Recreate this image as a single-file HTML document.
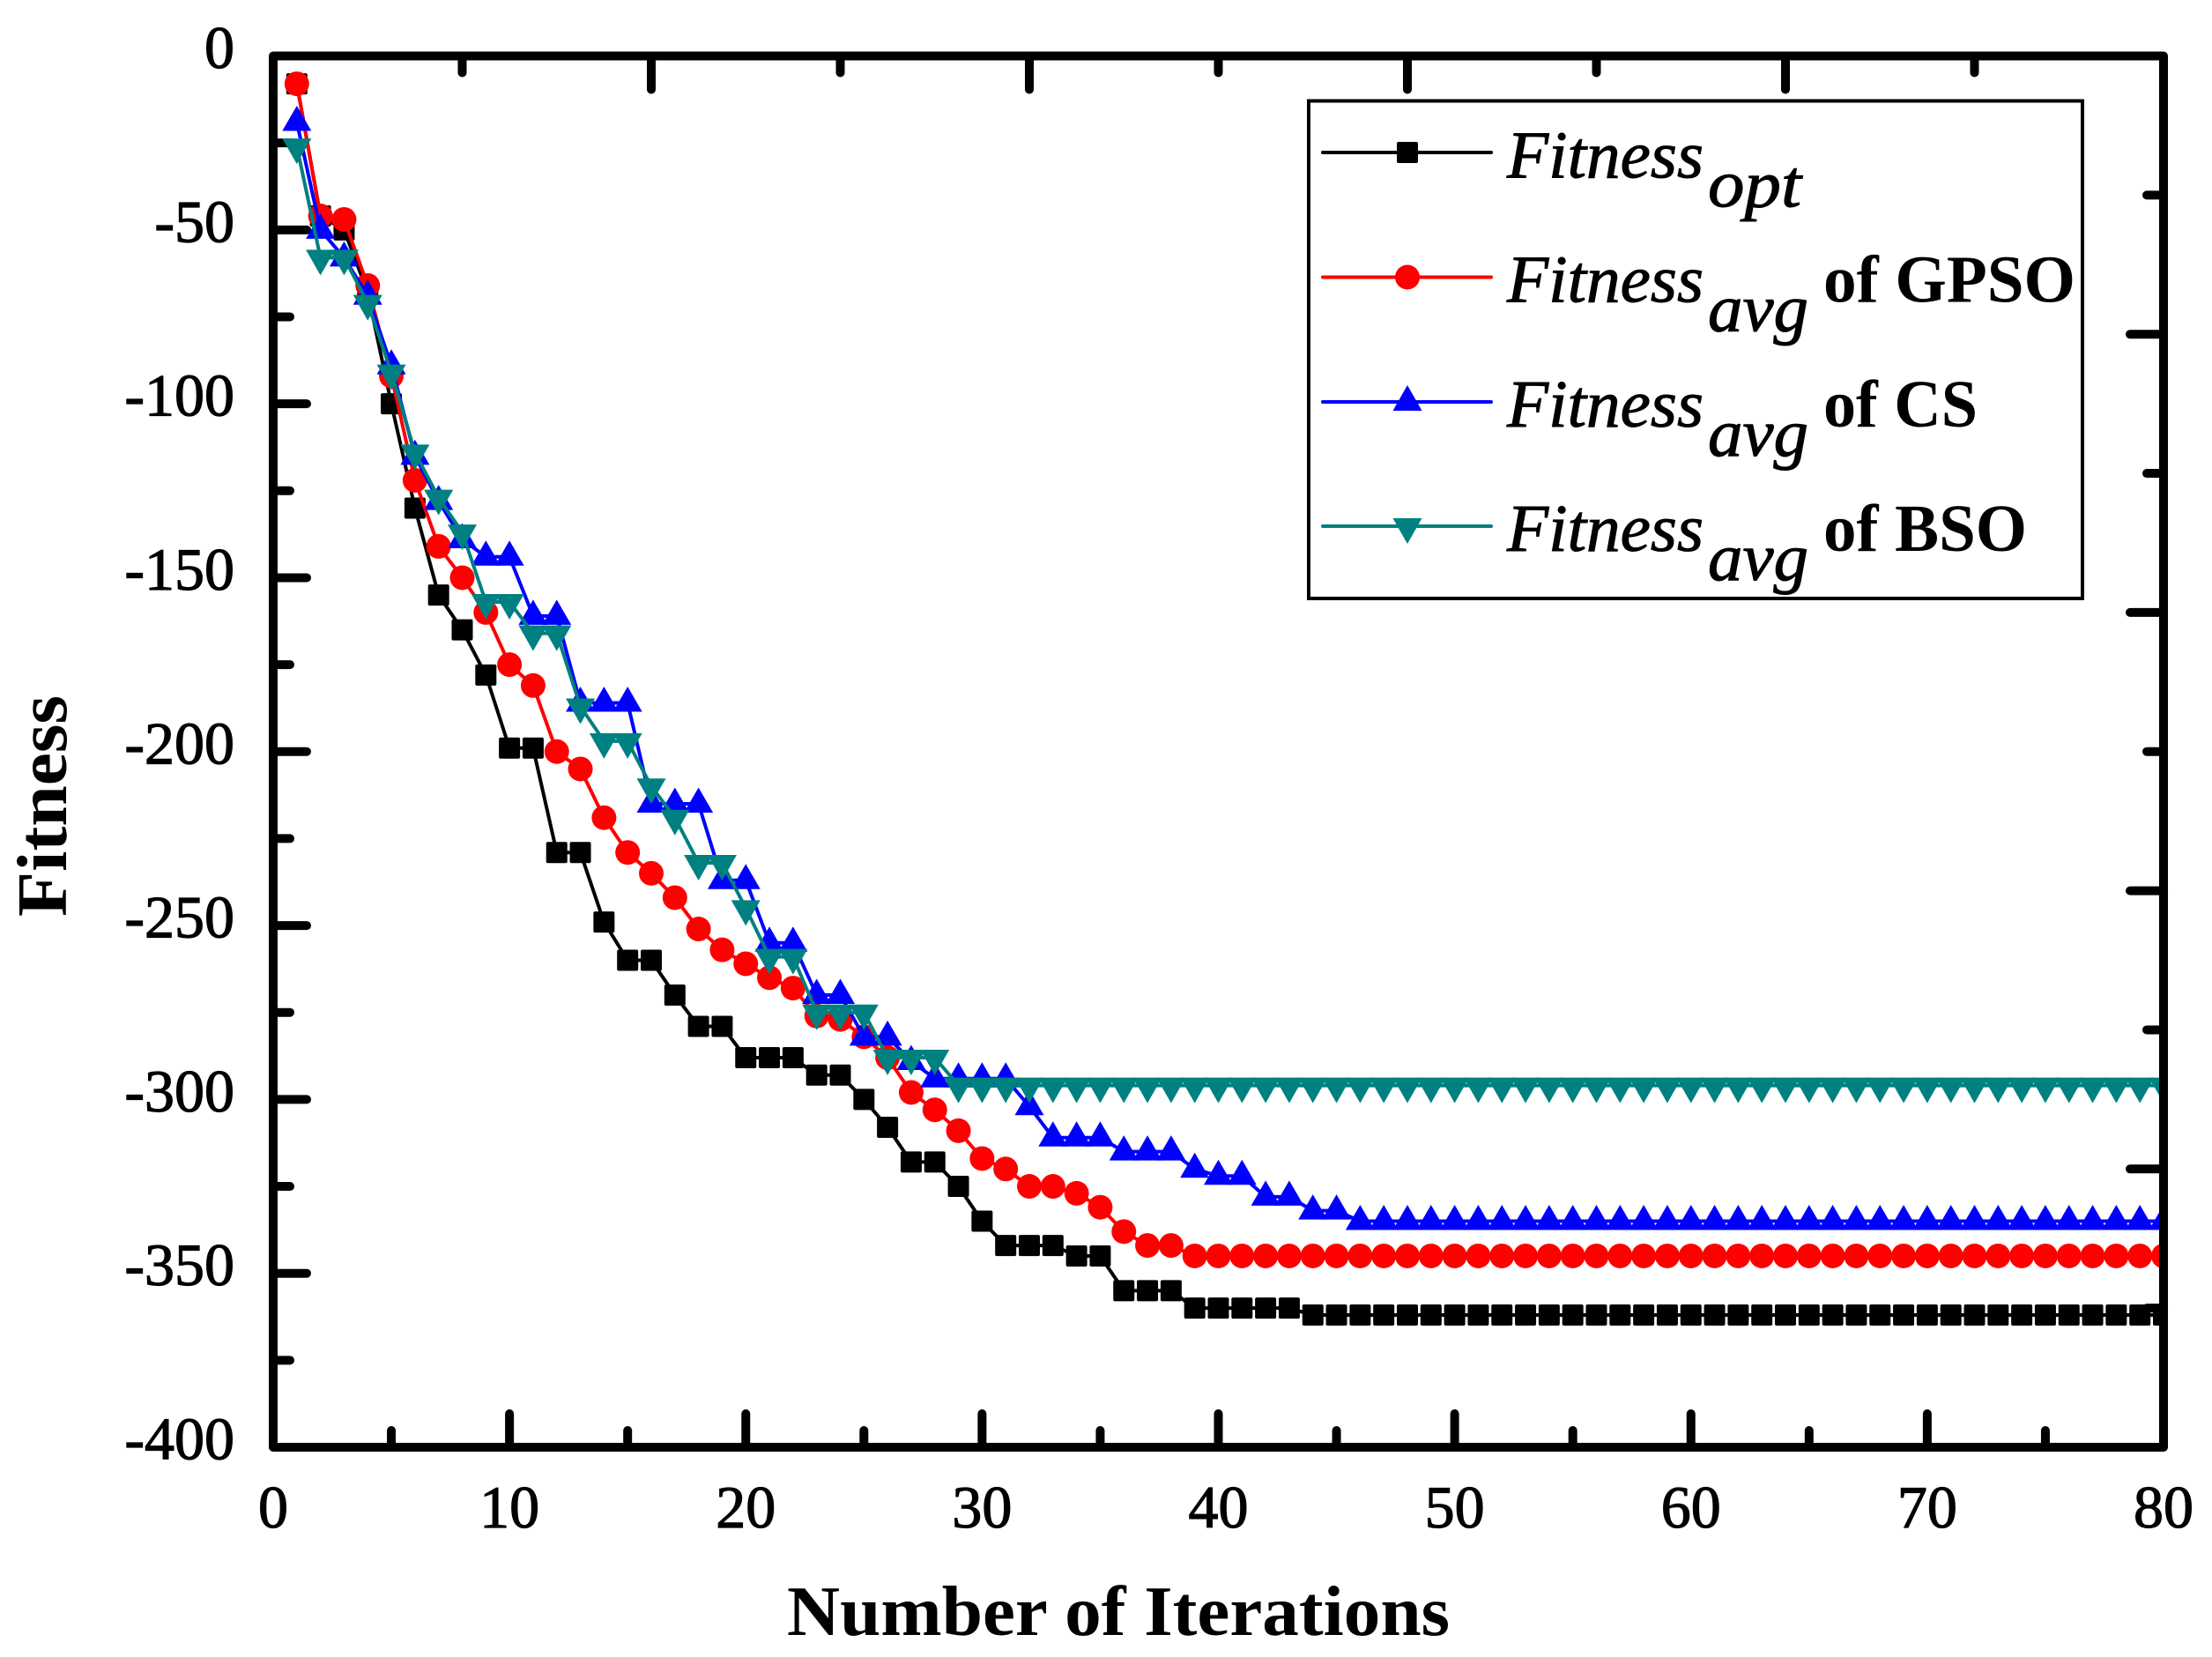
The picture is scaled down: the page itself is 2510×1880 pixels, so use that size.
<!DOCTYPE html>
<html lang="en">
<head>
<meta charset="utf-8">
<title>Fitness vs Number of Iterations</title>
<style>
html,body{margin:0;padding:0;background:#fff;width:2510px;height:1880px;overflow:hidden}
svg{display:block}
.tick-label{font-family:"Liberation Serif",serif;font-size:68px;fill:#000;stroke:#000;stroke-width:1.2px}
.axis-title{font-family:"Liberation Serif",serif;font-size:80px;font-weight:bold;fill:#000}
.legend-it{font-family:"Liberation Serif",serif;font-size:76px;font-style:italic;fill:#000;stroke:#000;stroke-width:1px}
.legend-of{font-family:"Liberation Serif",serif;font-size:76px;font-weight:bold;fill:#000}
</style>
</head>
<body>
<svg id="chart" xmlns="http://www.w3.org/2000/svg" width="2510" height="1880" viewBox="0 0 2510 1880">
  <rect x="0" y="0" width="2510" height="1880" fill="#fff"/>
  <defs><clipPath id="plot-clip"><rect x="300" y="40" width="2150" height="1610"/></clipPath></defs>
  <g id="ticks"></g>
  <g id="tick-labels"></g>
  <g id="series" clip-path="url(#plot-clip)"></g>
  <rect x="310" y="63.5" width="2145" height="1578.5" fill="none" stroke="#000" stroke-width="10" stroke-linejoin="round"/>

  <text class="axis-title" x="893" y="1855" textLength="752" lengthAdjust="spacingAndGlyphs">Number of Iterations</text>
  <text class="axis-title" transform="translate(75,1040) rotate(-90)" textLength="251" lengthAdjust="spacingAndGlyphs">Fitness</text>

  <g>
    <rect x="1485" y="114.5" width="878" height="564.5" fill="#fff" stroke="#000" stroke-width="4"/>

    <g>
      <line x1="1501" y1="173" x2="1692" y2="173" stroke="#000" stroke-width="4" stroke-linecap="round"/>
      <rect x="1585" y="161" width="24" height="24" rx="2" fill="#000"/>
      <text class="legend-it" x="1710" y="201.5" textLength="223" lengthAdjust="spacingAndGlyphs">Fitness</text>
      <text class="legend-it" x="1938" y="234.5" textLength="106" lengthAdjust="spacingAndGlyphs">opt</text>
    </g>

    <g>
      <line x1="1501" y1="314.5" x2="1692" y2="314.5" stroke="#f00" stroke-width="4" stroke-linecap="round"/>
      <circle cx="1597" cy="314.5" r="14" fill="#f00"/>
      <text class="legend-it" x="1710" y="342.5" textLength="223" lengthAdjust="spacingAndGlyphs">Fitness</text>
      <text class="legend-it" x="1938" y="375.5" textLength="114" lengthAdjust="spacingAndGlyphs">avg</text>
      <text class="legend-of" x="2069" y="342.5" textLength="286" lengthAdjust="spacingAndGlyphs">of GPSO</text>
    </g>

    <g>
      <line x1="1501" y1="456" x2="1692" y2="456" stroke="#00f" stroke-width="4" stroke-linecap="round"/>
      <polygon points="1597,437 1613.5,466 1580.5,466" fill="#00f"/>
      <text class="legend-it" x="1710" y="484" textLength="223" lengthAdjust="spacingAndGlyphs">Fitness</text>
      <text class="legend-it" x="1938" y="517" textLength="114" lengthAdjust="spacingAndGlyphs">avg</text>
      <text class="legend-of" x="2069" y="484" textLength="175" lengthAdjust="spacingAndGlyphs">of CS</text>
    </g>

    <g>
      <line x1="1501" y1="597" x2="1692" y2="597" stroke="#008080" stroke-width="4" stroke-linecap="round"/>
      <polygon points="1597,617 1613.5,588 1580.5,588" fill="#008080"/>
      <text class="legend-it" x="1710" y="625" textLength="223" lengthAdjust="spacingAndGlyphs">Fitness</text>
      <text class="legend-it" x="1938" y="658" textLength="114" lengthAdjust="spacingAndGlyphs">avg</text>
      <text class="legend-of" x="2069" y="625" textLength="231" lengthAdjust="spacingAndGlyphs">of BSO</text>
    </g>
  </g>
</svg>

<script>
// ---- chart data ----
const iterations = [1,2,3,4,5,6,7,8,9,10,11,12,13,14,15,16,17,18,19,20,21,22,23,24,25,26,27,28,29,30,31,32,33,34,35,36,37,38,39,40,41,42,43,44,45,46,47,48,49,50,51,52,53,54,55,56,57,58,59,60,61,62,63,64,65,66,67,68,69,70,71,72,73,74,75,76,77,78,79,80];
const fitnessOpt = [-8,-46,-50,-68,-100,-130,-155,-165,-178,-199,-199,-229,-229,-249,-260,-260,-270,-279,-279,-288,-288,-288,-293,-293,-300,-308,-318,-318,-325,-335,-342,-342,-342,-345,-345,-355,-355,-355,-360,-360,-360,-360,-360,-362,-362,-362,-362,-362,-362,-362,-362,-362,-362,-362,-362,-362,-362,-362,-362,-362,-362,-362,-362,-362,-362,-362,-362,-362,-362,-362,-362,-362,-362,-362,-362,-362,-362,-362,-362,-362];
const fitnessGpso = [-8,-46,-47,-66,-92,-122,-141,-150,-160,-175,-181,-200,-205,-219,-229,-235,-242,-251,-257,-261,-265,-268,-276,-277,-282,-288,-298,-303,-309,-317,-320,-325,-325,-327,-331,-338,-342,-342,-345,-345,-345,-345,-345,-345,-345,-345,-345,-345,-345,-345,-345,-345,-345,-345,-345,-345,-345,-345,-345,-345,-345,-345,-345,-345,-345,-345,-345,-345,-345,-345,-345,-345,-345,-345,-345,-345,-345,-345,-345,-345];
const fitnessCs = [-19,-50,-58,-69,-89,-115,-128,-139,-144,-144,-161,-161,-186,-186,-186,-215,-215,-215,-237,-237,-255,-255,-270,-270,-282,-282,-289,-294,-294,-294,-294,-302,-311,-311,-311,-315,-315,-315,-320,-322,-322,-328,-328,-332,-332,-335,-335,-335,-335,-335,-335,-335,-335,-335,-335,-335,-335,-335,-335,-335,-335,-335,-335,-335,-335,-335,-335,-335,-335,-335,-335,-335,-335,-335,-335,-335,-335,-335,-335,-335];
const fitnessBso = [-26,-58,-58,-71,-91,-114,-127,-137,-157,-157,-166,-166,-187,-197,-197,-210,-219,-232,-232,-245,-259,-259,-275,-275,-275,-288,-288,-288,-296,-296,-296,-296,-296,-296,-296,-296,-296,-296,-296,-296,-296,-296,-296,-296,-296,-296,-296,-296,-296,-296,-296,-296,-296,-296,-296,-296,-296,-296,-296,-296,-296,-296,-296,-296,-296,-296,-296,-296,-296,-296,-296,-296,-296,-296,-296,-296,-296,-296,-296,-296];
const xTickLabels = [0,10,20,30,40,50,60,70,80];
const yTickLabels = [0,-50,-100,-150,-200,-250,-300,-350,-400];
const xMinorTicks = [5,15,25,35,45,55,65,75];
const yMinorTicks = [-25,-75,-125,-175,-225,-275,-325,-375];
const topMajorTicks = [16,32,48,64];
const topMinorTicks = [8,24,40,56,72];
const rightMajorTicks = [-80,-160,-240,-320];
const rightMinorTicks = [-40,-120,-200,-280,-360];

// ---- axis functions ----
const xScale = v => 310 + (v - 0) * (2455 - 310) / (80 - 0);
const yScale = v => 63.5 + (0 - v) * (1642 - 63.5) / 400;
const NS = 'http://www.w3.org/2000/svg';
const make = (tag, attrs) => {
  const node = document.createElementNS(NS, tag);
  for (const key in attrs) node.setAttribute(key, attrs[key]);
  return node;
};
const ticksGroup = document.getElementById('ticks');
const labelsGroup = document.getElementById('tick-labels');
const seriesGroup = document.getElementById('series');
const MAJOR = 38, MINOR = 19;

const tickAttrs = (x1, y1, x2, y2) => ({x1, y1, x2, y2, stroke: '#000', 'stroke-width': 10, 'stroke-linecap': 'round'});

xTickLabels.forEach(v => {
  if (v > 0 && v < 80) {
    const el = make('line', tickAttrs(xScale(v), 1642, xScale(v), 1642 - MAJOR));
    
    
    ticksGroup.appendChild(el);
  }
  const label = make('text', {class: 'tick-label', x: xScale(v), y: 1733, 'text-anchor': 'middle'});
  label.textContent = v;
  
  
  labelsGroup.appendChild(label);
});
xMinorTicks.forEach(v => {
  const el = make('line', tickAttrs(xScale(v), 1642, xScale(v), 1642 - MINOR));
  
  
  ticksGroup.appendChild(el);
});
yTickLabels.forEach(v => {
  if (v < 0 && v > -400) {
    const el = make('line', tickAttrs(310, yScale(v), 310 + MAJOR, yScale(v)));
    
    
    ticksGroup.appendChild(el);
  }
  const label = make('text', {class: 'tick-label', x: 266, y: yScale(v) + 13.5, 'text-anchor': 'end'});
  label.textContent = v;
  
  
  labelsGroup.appendChild(label);
});
yMinorTicks.forEach(v => {
  const el = make('line', tickAttrs(310, yScale(v), 310 + MINOR, yScale(v)));
  
  
  ticksGroup.appendChild(el);
});
topMajorTicks.forEach(v => {
  const el = make('line', tickAttrs(xScale(v), 63.5, xScale(v), 63.5 + MAJOR));
  
  
  ticksGroup.appendChild(el);
});
topMinorTicks.forEach(v => {
  const el = make('line', tickAttrs(xScale(v), 63.5, xScale(v), 63.5 + MINOR));
  
  
  ticksGroup.appendChild(el);
});
rightMajorTicks.forEach(v => {
  const el = make('line', tickAttrs(2455, yScale(v), 2455 - MAJOR, yScale(v)));
  
  
  ticksGroup.appendChild(el);
});
rightMinorTicks.forEach(v => {
  const el = make('line', tickAttrs(2455, yScale(v), 2455 - MINOR, yScale(v)));
  
  
  ticksGroup.appendChild(el);
});

// ---- series ----
const linePoints = values => values.map((v, i) => xScale(iterations[i]) + ',' + yScale(v)).join(' ');

const lineOpt = make('polyline', {points: linePoints(fitnessOpt), fill: 'none', stroke: '#000', 'stroke-width': 4, 'stroke-linejoin': 'round'});


seriesGroup.appendChild(lineOpt);
fitnessOpt.forEach((v, i) => {
  const el = make('rect', {x: xScale(iterations[i]) - 12, y: yScale(v) - 12, width: 24, height: 24, rx: 2, fill: '#000'});
  
  
  seriesGroup.appendChild(el);
});

const lineGpso = make('polyline', {points: linePoints(fitnessGpso), fill: 'none', stroke: '#f00', 'stroke-width': 4, 'stroke-linejoin': 'round'});


seriesGroup.appendChild(lineGpso);
fitnessGpso.forEach((v, i) => {
  const el = make('circle', {cx: xScale(iterations[i]), cy: yScale(v), r: 14, fill: '#f00'});
  
  
  seriesGroup.appendChild(el);
});

const lineCs = make('polyline', {points: linePoints(fitnessCs), fill: 'none', stroke: '#00f', 'stroke-width': 4, 'stroke-linejoin': 'round'});


seriesGroup.appendChild(lineCs);
fitnessCs.forEach((v, i) => {
  const cx = xScale(iterations[i]), cy = yScale(v);
  const el = make('polygon', {points: cx + ',' + (cy - 18.5) + ' ' + (cx + 16.5) + ',' + (cy + 10) + ' ' + (cx - 16.5) + ',' + (cy + 10), fill: '#00f'});
  
  
  seriesGroup.appendChild(el);
});

const lineBso = make('polyline', {points: linePoints(fitnessBso), fill: 'none', stroke: '#008080', 'stroke-width': 4, 'stroke-linejoin': 'round'});


seriesGroup.appendChild(lineBso);
fitnessBso.forEach((v, i) => {
  const cx = xScale(iterations[i]), cy = yScale(v);
  const el = make('polygon', {points: cx + ',' + (cy + 20) + ' ' + (cx + 16.5) + ',' + (cy - 9) + ' ' + (cx - 16.5) + ',' + (cy - 9), fill: '#008080'});
  
  
  seriesGroup.appendChild(el);
});
</script>
</body>
</html>
